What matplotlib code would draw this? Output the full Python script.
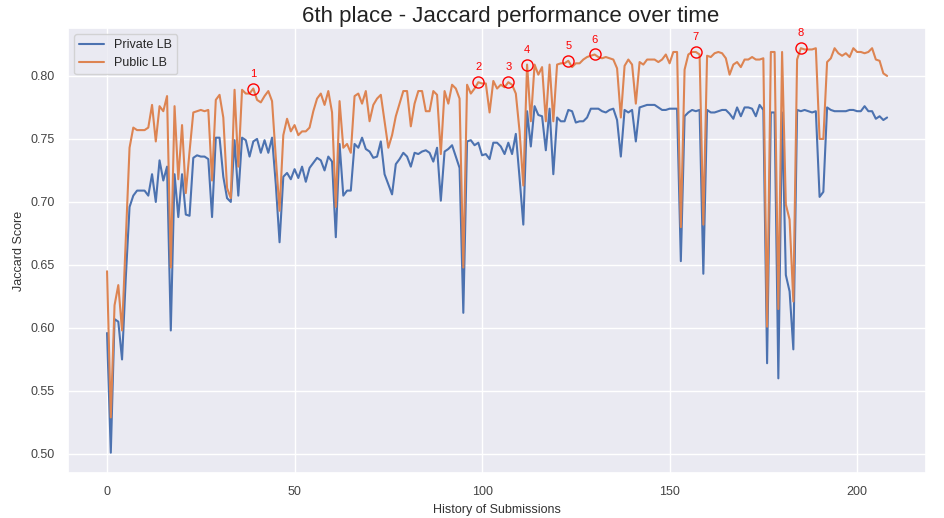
import numpy as np
import matplotlib
matplotlib.use("Agg")
import matplotlib.pyplot as plt
import seaborn as sns

# scores per submission
private_lb = [
    0.596, 0.501, 0.607, 0.605, 0.575, 0.640, 0.696, 0.705, 0.709, 0.709,
    0.709, 0.705, 0.722, 0.700, 0.733, 0.717, 0.728, 0.598, 0.722, 0.688,
    0.722, 0.690, 0.689, 0.735, 0.737, 0.736, 0.736, 0.734, 0.688, 0.751,
    0.751, 0.720, 0.703, 0.700, 0.749, 0.705, 0.751, 0.749, 0.736, 0.748,
    0.750, 0.739, 0.749, 0.739, 0.751, 0.714, 0.668, 0.720, 0.723, 0.718,
    0.726, 0.719, 0.728, 0.716, 0.727, 0.731, 0.735, 0.733, 0.725, 0.736,
    0.732, 0.672, 0.746, 0.705, 0.709, 0.709, 0.746, 0.743, 0.751, 0.742,
    0.740, 0.735, 0.736, 0.748, 0.722, 0.714, 0.706, 0.730, 0.734, 0.739,
    0.736, 0.728, 0.739, 0.738, 0.740, 0.741, 0.739, 0.732, 0.743, 0.701,
    0.740, 0.742, 0.745, 0.736, 0.727, 0.612, 0.748, 0.749, 0.745, 0.747,
    0.737, 0.738, 0.734, 0.747, 0.747, 0.744, 0.738, 0.747, 0.738, 0.754,
    0.719, 0.682, 0.772, 0.744, 0.776, 0.769, 0.768, 0.741, 0.774, 0.722,
    0.767, 0.764, 0.764, 0.773, 0.772, 0.763, 0.764, 0.764, 0.767, 0.774,
    0.774, 0.774, 0.772, 0.771, 0.773, 0.774, 0.765, 0.736, 0.773, 0.771,
    0.773, 0.748, 0.775, 0.776, 0.777, 0.777, 0.777, 0.775, 0.773, 0.773,
    0.774, 0.774, 0.774, 0.653, 0.768, 0.771, 0.773, 0.772, 0.773, 0.643,
    0.773, 0.771, 0.771, 0.772, 0.773, 0.773, 0.770, 0.766, 0.775, 0.768,
    0.775, 0.775, 0.774, 0.768, 0.777, 0.773, 0.572, 0.771, 0.771, 0.560,
    0.771, 0.642, 0.629, 0.583, 0.773, 0.772, 0.773, 0.772, 0.771, 0.772,
    0.704, 0.708, 0.775, 0.773, 0.772, 0.772, 0.772, 0.772, 0.773, 0.773,
    0.772, 0.772, 0.776, 0.772, 0.772, 0.766, 0.768, 0.765, 0.767,
]

public_lb = [
    0.645, 0.529, 0.618, 0.634, 0.598, 0.671, 0.743, 0.759, 0.757, 0.757,
    0.757, 0.759, 0.777, 0.748, 0.776, 0.772, 0.784, 0.648, 0.776, 0.718,
    0.761, 0.707, 0.740, 0.771, 0.772, 0.773, 0.772, 0.773, 0.717, 0.781,
    0.785, 0.767, 0.711, 0.703, 0.789, 0.728, 0.789, 0.786, 0.786, 0.790,
    0.781, 0.779, 0.784, 0.788, 0.780, 0.735, 0.693, 0.753, 0.766, 0.756,
    0.761, 0.753, 0.756, 0.756, 0.759, 0.772, 0.782, 0.786, 0.777, 0.788,
    0.771, 0.696, 0.780, 0.743, 0.746, 0.739, 0.784, 0.786, 0.778, 0.788,
    0.764, 0.777, 0.782, 0.785, 0.764, 0.743, 0.753, 0.768, 0.778, 0.788,
    0.788, 0.760, 0.778, 0.788, 0.788, 0.772, 0.772, 0.788, 0.785, 0.738,
    0.788, 0.778, 0.793, 0.790, 0.782, 0.648, 0.793, 0.786, 0.790, 0.795,
    0.794, 0.794, 0.771, 0.796, 0.790, 0.793, 0.791, 0.795, 0.793, 0.786,
    0.756, 0.713, 0.809, 0.764, 0.809, 0.801, 0.807, 0.764, 0.809, 0.764,
    0.809, 0.810, 0.810, 0.812, 0.807, 0.810, 0.810, 0.813, 0.815, 0.816,
    0.817, 0.815, 0.814, 0.815, 0.814, 0.813, 0.806, 0.767, 0.808, 0.813,
    0.809, 0.778, 0.811, 0.809, 0.813, 0.813, 0.813, 0.811, 0.813, 0.817,
    0.810, 0.819, 0.819, 0.680, 0.805, 0.817, 0.819, 0.819, 0.817, 0.682,
    0.816, 0.815, 0.818, 0.819, 0.818, 0.814, 0.801, 0.809, 0.811, 0.807,
    0.813, 0.813, 0.815, 0.813, 0.813, 0.814, 0.601, 0.819, 0.819, 0.615,
    0.819, 0.698, 0.686, 0.621, 0.813, 0.822, 0.821, 0.821, 0.821, 0.822,
    0.750, 0.750, 0.811, 0.814, 0.822, 0.818, 0.816, 0.818, 0.815, 0.822,
    0.819, 0.819, 0.818, 0.819, 0.822, 0.813, 0.812, 0.802, 0.800,
]

# submissions picked out with red circles
marked_idx = [39, 99, 107, 112, 123, 130, 157, 185]
marked_labels = ["1", "2", "3", "4", "5", "6", "7", "8"]

sns.set_theme(style="darkgrid")
plt.rcParams['font.family'] = ['Liberation Sans', 'DejaVu Sans']

fig, ax = plt.subplots(figsize=(9.45, 5.18), dpi=100)
fig.subplots_adjust(left=0.072, right=0.980, bottom=0.087, top=0.946)

x = np.arange(len(private_lb))
ax.plot(x, private_lb, label="Private LB", linewidth=1.5)
ax.plot(x, public_lb, label="Public LB", linewidth=1.5)

for idx, lab in zip(marked_idx, marked_labels):
    ax.plot(idx, public_lb[idx], marker="o", markersize=8, mfc="none",
            mec="red", mew=1.0, linestyle="none")
    ax.annotate(lab, (idx, public_lb[idx]), xytext=(0, 7), textcoords="offset points",
                ha="center", va="bottom", color="red", fontsize=8)

ax.set_title("6th place - Jaccard performance over time", fontsize=16, pad=4,
             color="#222222", x=0.516)
ax.set_xlabel("History of Submissions", fontsize=9, color="#333333")
ax.set_ylabel("Jaccard Score", fontsize=9, color="#333333")
ax.tick_params(labelsize=9, colors="#444444")
ax.set_yticks([0.50, 0.55, 0.60, 0.65, 0.70, 0.75, 0.80])
ax.set_xticks([0, 50, 100, 150, 200])
ax.legend(loc="upper left", fontsize=9)

fig.savefig("out.png", dpi=100)
